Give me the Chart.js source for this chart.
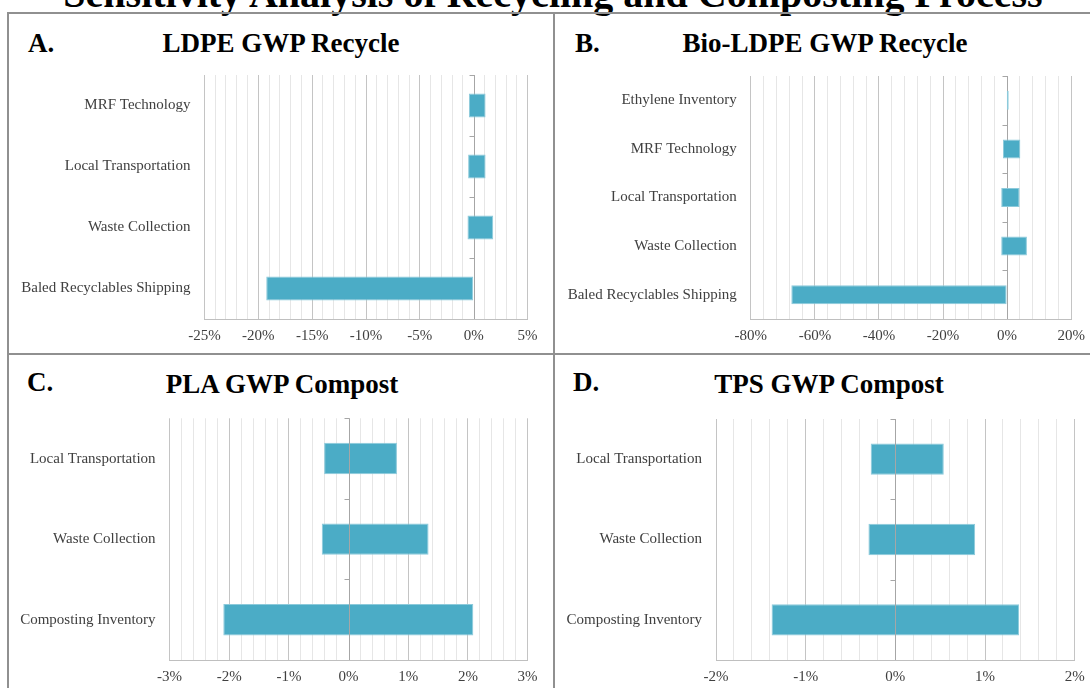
<!DOCTYPE html>
<html>
<head>
<meta charset="utf-8">
<script src="https://cdn.jsdelivr.net/npm/chart.js@4.4.1/dist/chart.umd.min.js"></script>
<style>
  body { margin: 0; background: #fff; }
  #page { position: relative; width: 1090px; height: 688px; overflow: hidden; background: #fff;
          font-family: 'Liberation Serif', 'Times New Roman', serif; }
  .rule { position: absolute; background: #909090; }
  .txt { position: absolute; white-space: nowrap; font-weight: bold; line-height: 1; color: #000; }
  .ttl { text-align: center; width: 400px; }
  canvas { position: absolute; }
</style>
</head>
<body>
<div id="page">
  <div class="txt" style="left:0; width:1106px; text-align:center; top:-26.5px; font-size:40px;">Sensitivity Analysis of Recycling and Composting Process</div>

  <div class="rule" style="left:8px; top:12px; width:1082px; height:2px;"></div>
  <div class="rule" style="left:7px; top:12px; width:2px; height:676px;"></div>
  <div class="rule" style="left:553px; top:12px; width:2px; height:676px;"></div>
  <div class="rule" style="left:8px; top:353px; width:1082px; height:2px;"></div>

  <div class="txt" style="left:28px; top:30.4px; font-size:27px;">A.</div>
  <div class="txt ttl" style="left:81px; top:30.4px; font-size:27px;">LDPE GWP Recycle</div>
  <div class="txt" style="left:575px; top:30.4px; font-size:27px;">B.</div>
  <div class="txt ttl" style="left:625px; top:30.4px; font-size:27px;">Bio-LDPE GWP Recycle</div>
  <div class="txt" style="left:27px; top:369px; font-size:27px;">C.</div>
  <div class="txt ttl" style="left:82px; top:371px; font-size:27px;">PLA GWP Compost</div>
  <div class="txt" style="left:573px; top:369px; font-size:27px;">D.</div>
  <div class="txt ttl" style="left:629px; top:371px; font-size:27px;">TPS GWP Compost</div>

  <canvas id="chartA" width="540" height="290" style="left:10px; top:62px;"></canvas>
  <canvas id="chartB" width="534" height="290" style="left:556px; top:62px;"></canvas>
  <canvas id="chartC" width="540" height="283" style="left:10px; top:405px;"></canvas>
  <canvas id="chartD" width="534" height="283" style="left:556px; top:405px;"></canvas>
</div>

<script>
// A. LDPE GWP Recycle (% change)
const ldpeLabels = ['MRF Technology', 'Local Transportation', 'Waste Collection', 'Baled Recyclables Shipping'];
const ldpeLow = [-0.45, -0.52, -0.58, -19.26];
const ldpeHigh = [1.10, 1.10, 1.81, 0];
const ldpeTicks = [-25, -20, -15, -10, -5, 0, 5];

// B. Bio-LDPE GWP Recycle
const bioLabels = ['Ethylene Inventory', 'MRF Technology', 'Local Transportation', 'Waste Collection', 'Baled Recyclables Shipping'];
const bioLow = [-0.1, -1.3, -1.84, -1.84, -67.35];
const bioHigh = [0.5, 4.12, 3.9, 6.18, 0];
const bioTicks = [-80, -60, -40, -20, 0, 20];

// C. PLA GWP Compost
const plaLabels = ['Local Transportation', 'Waste Collection', 'Composting Inventory'];
const plaLow = [-0.41, -0.45, -2.10];
const plaHigh = [0.81, 1.34, 2.09];
const plaTicks = [-3, -2, -1, 0, 1, 2, 3];

// D. TPS GWP Compost
const tpsLabels = ['Local Transportation', 'Waste Collection', 'Composting Inventory'];
const tpsLow = [-0.275, -0.30, -1.38];
const tpsHigh = [0.54, 0.89, 1.38];
const tpsTicks = [-2, -1, 0, 1, 2];

Chart.defaults.font.family = "'Liberation Serif', 'Times New Roman', serif";
Chart.defaults.font.size = 15;
Chart.defaults.color = '#404040';

const barFill = '#4BACC6';
const barEdge = '#8ccadb';
const majorGrid = '#c4c4c4';
const minorGrid = '#e6e6e6';
const axisGray = '#a6a6a6';

function isTick(v, list) {
  return list.some(t => Math.abs(t - v) < 1e-6);
}

// zero line + the little category tick marks on it
function drawZero(chart) {
  const { ctx, chartArea, scales: { x, y } } = chart;
  const x0 = Math.round(x.getPixelForValue(0)) + 0.5;
  ctx.save();
  ctx.strokeStyle = axisGray;
  ctx.lineWidth = 1;
  ctx.beginPath();
  ctx.moveTo(x0, chartArea.top);
  ctx.lineTo(x0, chartArea.bottom);
  for (let i = 0; i < y.ticks.length; i++) {
    const yy = Math.round(y.getPixelForValue(i - 0.5)) + 0.5;
    ctx.moveTo(x0 - 5, yy);
    ctx.lineTo(x0, yy);
  }
  ctx.stroke();
  ctx.restore();
}

const zeroLine = {
  id: 'zeroLine',
  beforeDatasetsDraw(chart, args, opts) { if (!opts.front) drawZero(chart); },
  afterDatasetsDraw(chart, args, opts) { if (opts.front) drawZero(chart); }
};

function makeTornado(id, labels, low, high, ticks, step, box, front) {
  return new Chart(document.getElementById(id), {
    type: 'bar',
    data: {
      labels: labels,
      datasets: [{
        data: low.map((l, i) => [l, high[i]]),
        backgroundColor: barFill,
        borderColor: barEdge,
        borderWidth: 1,
        borderSkipped: false,
        barPercentage: 0.39,
        categoryPercentage: 1
      }]
    },
    options: {
      indexAxis: 'y',
      responsive: false,
      animation: false,
      layout: { padding: { left: 0, right: box.pr, top: box.pt, bottom: 0 } },
      plugins: {
        legend: { display: false },
        tooltip: { enabled: false },
        zeroLine: { front: front }
      },
      scales: {
        x: {
          type: 'linear',
          min: ticks[0],
          max: ticks[ticks.length - 1],
          ticks: {
            stepSize: step,
            autoSkip: false,
            maxRotation: 0,
            minRotation: 0,
            padding: 8,
            callback: v => isTick(v, ticks) ? Math.round(v) + '%' : ''
          },
          grid: {
            drawTicks: false,
            color: c => {
              const v = c.tick.value;
              if (Math.abs(v) < 1e-6) return 'rgba(0,0,0,0)';
              return isTick(v, ticks) ? majorGrid : minorGrid;
            }
          },
          border: { display: true, color: '#bfbfbf' },
          afterFit: s => { s.height = box.xh; s.paddingLeft = 0; s.paddingRight = 0; }
        },
        y: {
          ticks: { padding: 14, autoSkip: false },
          grid: { display: false, drawTicks: false },
          border: { display: false },
          afterFit: s => { s.width = box.yw; s.paddingTop = 0; s.paddingBottom = 0; }
        }
      }
    },
    plugins: [zeroLine]
  });
}

makeTornado('chartA', ldpeLabels, ldpeLow, ldpeHigh, ldpeTicks, 1,
  { yw: 194.4, pr: 22.4, pt: 13, xh: 33 }, false);
makeTornado('chartB', bioLabels, bioLow, bioHigh, bioTicks, 4,
  { yw: 194.8, pr: 18.8, pt: 14, xh: 33 }, false);
makeTornado('chartC', plaLabels, plaLow, plaHigh, plaTicks, 0.2,
  { yw: 159.6, pr: 22.4, pt: 13.3, xh: 28 }, true);
makeTornado('chartD', tpsLabels, tpsLow, tpsHigh, tpsTicks, 0.2,
  { yw: 160, pr: 15.3, pt: 14, xh: 28 }, true);
</script>
</body>
</html>
